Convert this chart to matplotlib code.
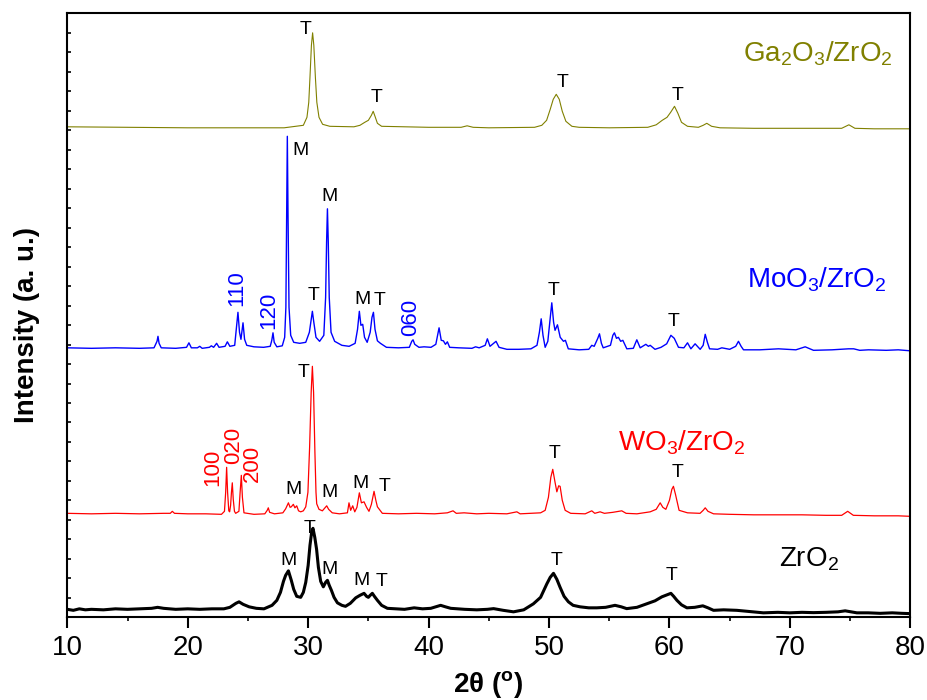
import matplotlib
matplotlib.use('Agg')
import matplotlib.pyplot as plt
from matplotlib.ticker import MultipleLocator, NullFormatter

plt.rcParams['font.family'] = ['Liberation Sans', 'DejaVu Sans']
plt.rcParams['mathtext.fontset'] = 'custom'
plt.rcParams['mathtext.rm'] = 'Liberation Sans'
plt.rcParams['mathtext.it'] = 'Liberation Sans'
plt.rcParams['mathtext.bf'] = 'Liberation Sans:bold'

# Ga2O3/ZrO2 pattern (olive, top)
ga_x = [10, 15, 20, 25, 28, 29.6, 29.9, 30.05, 30.15, 30.27, 30.37, 30.47, 30.6, 30.72, 30.9, 31.2,
        31.8, 33.8, 34.3, 34.7, 35.0, 35.25, 35.4, 35.55, 35.75, 36.1, 40, 42.7, 43.2, 43.7, 45,
        48.8, 49.4, 49.8, 50.1, 50.35, 50.6, 50.85, 51.1, 51.4, 51.9, 52.5, 55, 58.2, 58.9, 59.4,
        59.8, 60.1, 60.42, 60.7, 61.0, 61.5, 62.4, 62.8, 63.1, 63.5, 64.2, 67, 70, 74.3, 74.9,
        75.4, 77, 80]
ga_y = [490.5, 490, 489.5, 489.5, 489.5, 492, 500, 515, 540, 572, 584.5, 572, 540, 515, 500, 493,
        491, 490.5, 492, 495, 497, 502, 506, 501, 494, 491, 490, 490, 491.5, 490, 489.5,
        490, 492, 497, 508, 518, 523, 518, 506, 496, 491, 490, 489.5, 490, 492.5, 497,
        500, 505, 511, 504, 495, 491, 490, 492, 494, 491, 489.5, 489, 489, 489, 492.5,
        489, 488.5, 488.5]

# MoO3/ZrO2 pattern (blue)
mo_x = [10, 12, 14, 16, 17.2, 17.45, 17.53, 17.62, 17.8, 19, 19.9, 20.1, 20.3, 20.8, 21.0, 21.2,
        21.8, 21.96, 22.15, 22.4, 22.6, 23.1, 23.29, 23.5, 23.9, 24.05, 24.17, 24.3, 24.42, 24.59,
        24.72, 24.9, 25.5, 26.3, 26.56, 26.85, 26.98, 27.08, 27.18, 27.4, 27.85, 28.05, 28.15,
        28.21, 28.27, 28.33, 28.41, 28.55, 28.8, 29.3, 29.8, 30.1, 30.25, 30.35, 30.47, 30.65,
        30.95, 31.3, 31.45, 31.53, 31.6, 31.67, 31.75, 31.9, 32.2, 32.8, 33.4, 33.9, 34.1, 34.25,
        34.38, 34.53, 34.68, 34.9, 35.15, 35.3, 35.42, 35.55, 35.75, 36.0, 36.5, 37.5, 38.4, 38.6,
        38.71, 38.85, 39.2, 39.62, 40.2, 40.6, 40.87, 41.05, 41.23, 41.4, 41.56, 41.75, 42.5, 43.6,
        43.9, 44.2, 44.7, 44.88, 45.1, 45.6, 45.85, 46.5, 47.5, 48.5, 49.0, 49.2, 49.35, 49.5,
        49.68, 49.9, 50.1, 50.23, 50.38, 50.5, 50.7, 50.93, 51.2, 51.36, 51.6, 52.5, 53.3, 53.55,
        53.75, 54.05, 54.19, 54.35, 54.5, 55.1, 55.3, 55.43, 55.6, 55.76, 55.95, 56.13, 56.46,
        57.0, 57.29, 57.57, 58.04, 58.25, 58.4, 58.8, 59.3, 59.77, 60.0, 60.12, 60.4, 60.75, 61.2,
        61.5, 61.78, 62.13, 62.55, 62.8, 62.97, 63.15, 63.33, 64.0, 64.35, 65.0, 65.5, 65.73,
        65.95, 66.15, 67.5, 69.05, 70.5, 71.27, 71.96, 73.5, 74.87, 75.3, 75.8, 76.53, 78.0, 79.0,
        80.0]
mo_y = [269.5, 269, 269.5, 269, 269.5, 276, 281, 274, 269.5, 269, 270, 274.5, 269.5, 269.5, 271, 269,
        270, 271.5, 270, 274, 270, 271, 275.5, 271, 272, 290, 305, 285, 278, 294.5,
        278, 272, 270.5, 270, 270.5, 271, 277, 284.5, 275, 270.5, 271.5, 280, 310,
        400, 481, 400, 310, 282, 275, 274, 275, 285, 298, 306, 295, 280,
        276, 282, 320, 375, 408.5, 375, 320, 285, 276, 272, 271, 274, 288, 306,
        292, 293, 280, 275, 285, 300, 305, 288, 276.5, 274, 270, 269.5, 270, 276,
        277.5, 273, 270, 270.5, 270, 273, 289.5, 277, 276.5, 273, 275.5, 270, 269.5, 269,
        270.5, 269.5, 272, 278.5, 271, 276, 270, 268, 268, 268.5, 272, 285, 298.5, 282,
        270, 276, 300, 314.5, 295, 287, 292.5, 280, 276, 277, 268.5, 267.5, 268, 272,
        271, 279, 283.5, 274, 269.5, 272, 282, 284.5, 279, 280, 276, 277, 268.5,
        269, 277.5, 269.5, 273, 271, 272, 268, 270, 273.5, 279, 282, 279, 270, 269.5,
        274.5, 268.5, 273.5, 268, 272, 283, 275, 268.5, 268, 269.5, 268, 271, 276,
        271, 267.5, 267.5, 268.5, 267.5, 270.5, 267, 267.5, 268.5, 268.5, 267, 267.5, 267, 267.5,
        266.5]

# WO3/ZrO2 pattern (red)
wo_x = [10, 12, 14, 16, 18, 18.55, 18.72, 18.9, 20, 21.5, 22.8, 23.05, 23.15, 23.23, 23.31, 23.41,
        23.48, 23.56, 23.63, 23.7, 23.78, 23.88, 23.98, 24.25, 24.35, 24.45, 24.54, 24.67, 25.5,
        26.4, 26.6, 26.69, 26.8, 27.2, 27.9, 28.13, 28.36, 28.5, 28.6, 28.77, 28.9, 29.05, 29.2,
        29.38, 29.6, 29.8, 29.98, 30.12, 30.25, 30.35, 30.45, 30.56, 30.65, 30.71, 30.9, 31.18,
        31.4, 31.54, 31.7, 32.0, 32.6, 33.26, 33.39, 33.53, 33.7, 33.87, 34.05, 34.25, 34.42,
        34.64, 34.85, 35.05, 35.25, 35.47, 35.62, 35.75, 36.16, 37.5, 39, 40.5, 41.56, 42.03,
        42.3, 42.95, 44.0, 45, 46.5, 47.33, 47.6, 48.44, 49.3, 49.68, 49.95, 50.15, 50.31, 50.5,
        50.65, 50.8, 50.92, 51.1, 51.34, 51.8, 53.0, 53.55, 53.8, 54.24, 54.6, 55.3, 56.04, 56.4,
        57.3, 58.4, 58.9, 59.23, 59.45, 59.7, 60.0, 60.2, 60.33, 60.5, 60.8, 61.5, 62.54, 62.8,
        62.97, 63.2, 63.66, 65, 67, 69, 71, 73, 74.3, 74.8, 75.27, 77, 79, 80]
wo_y = [104, 103.5, 104, 103.5, 104, 104, 106, 104, 103.5, 103.5, 103, 106, 125, 150, 125, 106.5,
        105.5, 112, 125, 134.5, 118, 106, 104, 106, 125, 142, 120, 104.5, 103,
        103.5, 107, 109.5, 105, 103.5, 104.5, 108.5, 114.5, 110, 110.5, 113, 109.5, 111.5, 106.5,
        105.5, 106.5, 110.5, 125, 170, 225, 251, 225, 165, 125, 113.5, 108, 106.5,
        109.5, 111.5, 108, 104.5, 103.5, 104.5, 114.5, 107, 111.5, 105.5, 110, 124.5, 114.5,
        115.5, 110, 106, 113, 126, 117, 110.5, 104, 103.5, 104, 103.5, 104.5, 106.5,
        104, 104.5, 103.5, 104, 103.5, 105.5, 103.5, 104, 104.5, 107, 120, 140, 148, 135,
        125.5, 131.5, 131, 117, 107, 104, 103.5, 106.5, 104, 105.5, 104, 105, 106.5, 104,
        103.5, 105.5, 108, 114.5, 110, 108, 117, 128, 131, 123, 107, 104.5, 104, 107,
        109.5, 106, 103.5, 103, 102.5, 102.5, 102.5, 102, 102, 106, 102, 101.5, 101.5, 101]

# bare ZrO2 pattern (black, bottom)
zr_x = [10, 10.5, 11, 11.5, 12, 13, 14, 15, 16, 17, 17.5, 18, 19, 20, 21, 22, 23, 23.5, 24.0, 24.26,
        24.6, 25.1, 25.7, 26.33, 27.0, 27.4, 27.7, 27.95, 28.13, 28.36, 28.6, 28.8, 29.05, 29.38,
        29.6, 29.8, 30.0, 30.15, 30.3, 30.4, 30.55, 30.7, 30.85, 31.04, 31.26, 31.45, 31.6, 31.75,
        31.93, 32.15, 32.43, 32.8, 33.1, 33.5, 33.95, 34.3, 34.64, 34.85, 35.0, 35.15, 35.33, 35.5,
        35.75, 36.1, 36.58, 37.3, 38, 38.8, 39.5, 40.18, 40.6, 41.0, 41.4, 41.84, 43, 44, 44.88,
        45.4, 46.2, 47.05, 47.9, 48.7, 49.3, 49.82, 50.1, 50.37, 50.65, 50.92, 51.25, 51.61, 52.0,
        52.58, 53.3, 53.96, 54.7, 55.48, 56.0, 56.45, 57.3, 58.1, 58.8, 59.37, 59.8, 60.12, 60.35,
        60.62, 61.0, 61.45, 62.1, 62.77, 63.2, 63.66, 64.5, 65.6, 66.5, 67.8, 69, 70, 71, 71.96,
        73, 74.0, 74.59, 75.1, 75.56, 76.5, 77.5, 78.5, 79.3, 80]
zr_y = [8, 7, 8.5, 7.5, 8, 7.5, 8.5, 8, 8.5, 9, 10, 9, 8, 8.5, 8, 8.5, 8.5, 10, 14, 15.5,
        13, 10.5, 9, 8.5, 12, 17, 25, 36, 42, 46.5, 37, 28, 21, 20,
        25, 35, 52, 72, 86, 89, 80, 68, 50, 36, 30.5, 35, 37, 32,
        27, 20, 14.5, 12, 11, 14, 19.5, 22, 24, 21, 20, 22, 24, 21,
        17, 12, 9, 8.5, 8, 9.5, 8.5, 9, 10.5, 12, 10.5, 9, 8, 7.5, 8,
        8.7, 7, 5.5, 7.5, 13.5, 20, 33.5, 40, 44, 38, 30, 21, 15.5, 12,
        10.5, 9.5, 9.5, 10, 12, 10.5, 8.7, 10, 13.5, 16.5, 20.5, 22.5, 24, 21,
        17, 12.5, 9.5, 10, 11.5, 9.5, 7, 7.5, 7, 6, 4.5, 5, 4.5, 5, 4.7,
        5, 5.5, 6.5, 5.5, 4.5, 4.5, 4, 4.5, 4, 3.7]

# phase markers (T = tetragonal, M = monoclinic)
phase_x = [29.78, 35.71, 51.13, 60.71,
           29.35, 31.76, 30.47, 34.48, 35.91, 50.37, 60.33,
           29.58, 28.75, 31.79, 34.33, 36.33, 50.5, 60.66,
           28.38, 30.13, 31.79, 34.39, 36.13, 50.59, 60.2]
phase_y = [587.7, 520.3, 534.7, 522,
           467, 421.3, 322, 318, 317, 327, 296.3,
           245.3, 127.7, 124.7, 134.3, 131, 163.7, 144.7,
           57, 88.7, 48, 37, 36, 57, 42]
phase_txt = ['T', 'T', 'T', 'T',
             'M', 'M', 'T', 'M', 'T', 'T', 'T',
             'T', 'M', 'M', 'M', 'T', 'T', 'T',
             'M', 'T', 'M', 'M', 'T', 'T', 'T']

# Miller indices of the supported oxides
mo_hkl = ['110', '120', '060']
mo_hkl_x = [24.08, 26.73, 38.49]
mo_hkl_y = [329, 307, 300.3]
wo_hkl = ['100', '020', '200']
wo_hkl_x = [22.08, 23.82, 25.34]
wo_hkl_y = [150.3, 172, 154]

names = [r'Ga$_2$O$_3$/ZrO$_2$', r'MoO$_3$/ZrO$_2$', r'WO$_3$/ZrO$_2$', r'ZrO$_2$']
name_x = [72.35, 72.27, 60.97, 71.6]
name_y = [556, 330, 167, 51]
colors = ['#808000', '#0000ff', '#ff0000', 'black']

fig = plt.figure(figsize=(9.27, 7.0), dpi=100)
ax = fig.add_axes([0.0726, 0.1181, 0.9094, 0.8629])

ax.plot(ga_x, ga_y, color=colors[0], lw=0.8)
ax.plot(mo_x, mo_y, color=colors[1], lw=1.0)
ax.plot(wo_x, wo_y, color=colors[2], lw=0.9)
ax.plot(zr_x, zr_y, color=colors[3], lw=2.2)

for x, y, t in zip(phase_x, phase_y, phase_txt):
    ax.text(x, y, t, fontsize=14, ha='center', va='center')
for x, y, t in zip(mo_hkl_x, mo_hkl_y, mo_hkl):
    ax.text(x, y, t, fontsize=16, color=colors[1], rotation=90, ha='center', va='center')
for x, y, t in zip(wo_hkl_x, wo_hkl_y, wo_hkl):
    ax.text(x, y, t, fontsize=16, color=colors[2], rotation=90, ha='center', va='center')
for x, y, t, c in zip(name_x, name_y, names, colors):
    ax.text(x, y, t, fontsize=20, color=c, ha='center', va='baseline')

ax.set_xlim(10, 80)
ax.set_ylim(0, 604)
ax.xaxis.set_major_locator(MultipleLocator(10))
ax.xaxis.set_minor_locator(MultipleLocator(5))
ax.yaxis.set_major_locator(MultipleLocator(604 / 31))
ax.yaxis.set_major_formatter(NullFormatter())
ax.tick_params(axis='x', which='major', direction='out', length=8, width=1.5,
               labelsize=20, pad=5)
ax.tick_params(axis='x', which='minor', direction='out', length=3, width=1.2)
ax.tick_params(axis='y', which='major', direction='in', length=3, width=1.2)
for s in ax.spines.values():
    s.set_linewidth(1.5)

fig.text(27 / 927, 1 - 325 / 700, 'Intensity (a. u.)', rotation=90, fontsize=20,
         fontweight='bold', ha='center', va='center')
fig.text(488 / 927, 1 - 684 / 700, r'2θ ($\mathbf{^o}$)', fontsize=20,
         fontweight='bold', ha='center', va='center')

fig.savefig('out.png', dpi=100)
